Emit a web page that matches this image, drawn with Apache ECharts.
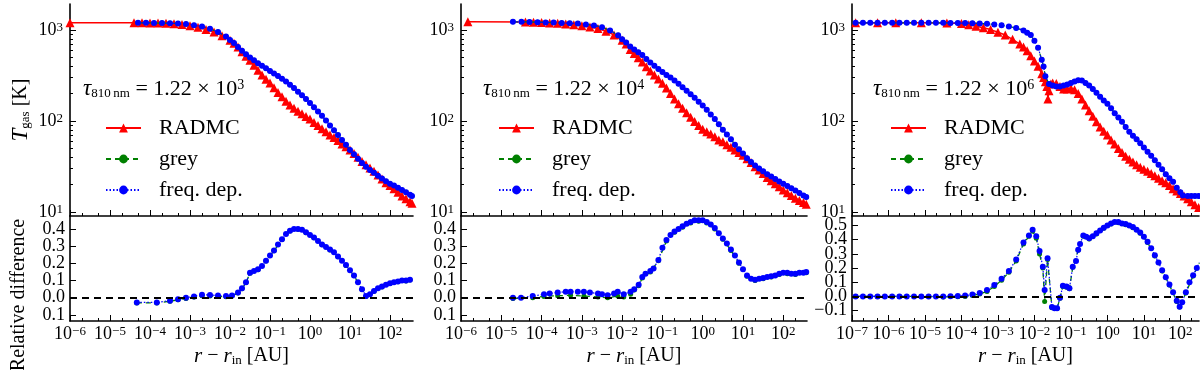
<!DOCTYPE html>
<html>
<head>
<meta charset="utf-8">
<script src="https://cdn.jsdelivr.net/npm/echarts@6/dist/echarts.min.js"></script>
<style>
  html, body { margin: 0; padding: 0; background: #fff; }
  #chart { width: 1200px; height: 370px; }
</style>
</head>
<body>
<div id="chart"></div>
<script>
// points are [log10(r - r_in / AU), value]

// panel 1, tau = 1.22e3
const radmc1 = [[-6,1200],[-4.4,1200],[-4.2,1200],[-4.0,1195],[-3.8,1190],[-3.6,1185],[-3.4,1170],[-3.2,1150],[-3.0,1115],[-2.8,1070],[-2.6,1015],[-2.4,950],[-2.2,865],[-2.0,770],[-1.9,715],[-1.8,650],[-1.7,575],[-1.6,515],[-1.5,465],[-1.4,410],[-1.3,360],[-1.2,320],[-1.1,288],[-1.0,262],[-0.9,232],[-0.8,206],[-0.7,185],[-0.6,165],[-0.5,150],[-0.4,138],[-0.3,128],[-0.2,120],[-0.1,112],[0.0,105],[0.1,96],[0.2,89],[0.3,82],[0.4,76],[0.5,70],[0.6,66],[0.7,61],[0.8,56],[0.9,52],[1.0,48],[1.1,44],[1.2,40],[1.3,36],[1.4,33],[1.5,30.5],[1.6,28],[1.7,25.5],[1.8,23],[1.9,21],[2.0,19.5],[2.1,18],[2.2,16.5],[2.3,15],[2.4,14],[2.5,13],[2.55,12.5]];
const freq1 = [[-4.3,1200],[-4.1,1200],[-3.9,1195],[-3.7,1190],[-3.5,1185],[-3.3,1175],[-3.1,1160],[-2.9,1130],[-2.7,1090],[-2.5,1030],[-2.3,950],[-2.1,850],[-2.0,777],[-1.9,720],[-1.8,650],[-1.7,590],[-1.6,540],[-1.5,500],[-1.4,465],[-1.3,432],[-1.2,405],[-1.1,380],[-1.0,355],[-0.9,333],[-0.8,312],[-0.7,292],[-0.6,272],[-0.5,251],[-0.4,230],[-0.3,210],[-0.2,192],[-0.1,175],[0.0,158],[0.1,142],[0.2,127],[0.3,114],[0.4,101],[0.5,89],[0.6,79],[0.7,70],[0.8,62],[0.9,55],[1.0,48],[1.1,43],[1.2,38.5],[1.3,34.5],[1.4,31.5],[1.5,29],[1.6,27],[1.7,25],[1.8,23.3],[1.9,21.8],[2.0,20.5],[2.1,19.5],[2.2,18.5],[2.3,17.5],[2.4,16.5],[2.5,15.5],[2.55,15]];
const freqDiff1 = [[-4.33,-0.027],[-3.83,-0.027],[-3.5,-0.017],[-3.3,-0.008],[-3.1,0.0],[-2.9,0.008],[-2.7,0.018],[-2.5,0.016],[-2.3,0.013],[-2.1,0.01],[-1.95,0.013],[-1.8,0.03],[-1.7,0.055],[-1.6,0.09],[-1.5,0.145],[-1.4,0.155],[-1.3,0.165],[-1.2,0.185],[-1.1,0.215],[-1.0,0.245],[-0.9,0.275],[-0.8,0.31],[-0.7,0.34],[-0.6,0.37],[-0.5,0.39],[-0.4,0.4],[-0.3,0.4],[-0.2,0.395],[-0.1,0.38],[0.0,0.365],[0.1,0.35],[0.2,0.33],[0.3,0.31],[0.4,0.295],[0.5,0.28],[0.6,0.265],[0.7,0.24],[0.8,0.215],[0.9,0.19],[1.0,0.16],[1.1,0.13],[1.2,0.09],[1.3,0.05],[1.4,0.01],[1.5,0.02],[1.6,0.04],[1.7,0.055],[1.8,0.065],[1.9,0.075],[2.0,0.085],[2.1,0.09],[2.2,0.095],[2.3,0.1],[2.4,0.1],[2.5,0.105]];
const greyDiff1 = [[-4.33,-0.03],[-3.83,-0.03],[-3.5,-0.02],[-3.3,-0.012],[-3.1,-0.004],[-2.9,0.004],[-2.7,0.012],[-2.5,0.01],[-2.3,0.008],[-2.1,0.006],[-1.95,0.01],[-1.8,0.028],[-1.7,0.052],[-1.6,0.088],[-1.5,0.143],[-1.3,0.163],[-1.1,0.213],[-0.9,0.273],[-0.7,0.338],[-0.5,0.388],[-0.3,0.398],[-0.1,0.378],[0.1,0.348],[0.3,0.308],[0.5,0.278],[0.7,0.238],[0.9,0.188],[1.1,0.128],[1.3,0.048],[1.4,0.008],[1.6,0.038],[1.8,0.063],[2.0,0.083],[2.2,0.093],[2.4,0.098],[2.5,0.103]];

// panel 2, tau = 1.22e4
const radmc2 = [[-5.83,1230],[-4.4,1225],[-4.2,1215],[-4.0,1205],[-3.8,1195],[-3.6,1185],[-3.4,1165],[-3.2,1140],[-3.0,1110],[-2.8,1080],[-2.6,1040],[-2.4,970],[-2.2,880],[-2.0,770],[-1.9,700],[-1.8,610],[-1.7,550],[-1.6,495],[-1.5,445],[-1.4,395],[-1.3,355],[-1.2,320],[-1.1,290],[-1.0,260],[-0.9,230],[-0.8,200],[-0.7,175],[-0.6,155],[-0.5,138],[-0.4,123],[-0.3,110],[-0.2,99],[-0.1,89],[0.0,81],[0.1,76],[0.2,72],[0.3,67],[0.4,62],[0.5,59],[0.6,55],[0.7,51.5],[0.8,48],[0.9,45],[1.0,42],[1.1,38.5],[1.2,35],[1.3,31.5],[1.4,29],[1.5,26.5],[1.6,24],[1.7,22],[1.8,20.5],[1.9,19],[2.0,17.5],[2.1,16.3],[2.2,15.2],[2.3,14.2],[2.4,13.4],[2.5,12.7],[2.57,12.2]];
const freq2 = [[-4.71,1230],[-4.5,1228],[-4.3,1225],[-4.1,1220],[-3.9,1212],[-3.7,1205],[-3.5,1195],[-3.3,1185],[-3.1,1175],[-2.9,1150],[-2.7,1120],[-2.5,1075],[-2.3,990],[-2.1,875],[-2.0,790],[-1.9,730],[-1.8,660],[-1.7,610],[-1.6,570],[-1.5,530],[-1.4,480],[-1.3,440],[-1.2,405],[-1.1,372],[-1.0,345],[-0.9,320],[-0.8,300],[-0.7,278],[-0.6,256],[-0.5,235],[-0.4,215],[-0.3,197],[-0.2,180],[-0.1,163],[0.0,148],[0.1,133],[0.2,118],[0.3,105],[0.4,92],[0.5,80],[0.6,71],[0.7,63],[0.8,55],[0.9,49],[1.0,44],[1.1,39],[1.2,35.5],[1.3,32.5],[1.4,30],[1.5,28],[1.6,26],[1.7,24.5],[1.8,23],[1.9,21.7],[2.0,20.5],[2.1,19.3],[2.2,18.2],[2.3,17.2],[2.4,16.2],[2.5,15.2],[2.57,14.6]];
const freqDiff2 = [[-4.71,0.0],[-4.51,0.0],[-4.22,0.01],[-3.94,0.02],[-3.8,0.025],[-3.6,0.03],[-3.4,0.035],[-3.28,0.035],[-3.1,0.035],[-2.95,0.035],[-2.8,0.03],[-2.6,0.025],[-2.5,0.02],[-2.36,0.015],[-2.2,0.025],[-2.11,0.035],[-1.96,0.02],[-1.79,0.035],[-1.7,0.05],[-1.59,0.075],[-1.5,0.12],[-1.42,0.14],[-1.3,0.155],[-1.22,0.17],[-1.1,0.22],[-1.0,0.29],[-0.9,0.335],[-0.8,0.365],[-0.7,0.385],[-0.6,0.4],[-0.5,0.415],[-0.4,0.43],[-0.3,0.44],[-0.2,0.45],[-0.1,0.45],[0.0,0.45],[0.1,0.44],[0.2,0.425],[0.3,0.405],[0.4,0.375],[0.5,0.345],[0.6,0.315],[0.7,0.28],[0.8,0.245],[0.9,0.205],[1.0,0.165],[1.1,0.13],[1.2,0.11],[1.3,0.105],[1.4,0.11],[1.5,0.115],[1.6,0.12],[1.7,0.125],[1.8,0.13],[1.9,0.14],[2.0,0.145],[2.1,0.145],[2.2,0.14],[2.3,0.14],[2.4,0.145],[2.5,0.145],[2.57,0.15]];
const greyDiff2 = [[-4.71,-0.005],[-4.22,0.0],[-3.94,0.008],[-3.6,0.012],[-3.28,0.014],[-2.95,0.01],[-2.6,0.004],[-2.36,0.0],[-2.11,0.01],[-1.96,0.005],[-1.79,0.02],[-1.7,0.045],[-1.59,0.07],[-1.5,0.115],[-1.3,0.15],[-1.1,0.215],[-0.9,0.33],[-0.7,0.38],[-0.5,0.41],[-0.3,0.435],[-0.1,0.445],[0.1,0.435],[0.3,0.4],[0.5,0.34],[0.7,0.275],[0.9,0.2],[1.1,0.125],[1.3,0.1],[1.5,0.11],[1.7,0.12],[1.9,0.135],[2.1,0.14],[2.3,0.135],[2.57,0.145]];

// panel 3, tau = 1.22e6
const radmc3 = [[-6.9,1200],[-6.3,1200],[-5.8,1200],[-5.1,1200],[-4.4,1195],[-4.0,1175],[-3.8,1140],[-3.6,1100],[-3.4,1060],[-3.2,1010],[-3.0,945],[-2.8,880],[-2.6,790],[-2.4,700],[-2.3,650],[-2.2,590],[-2.1,520],[-2.0,455],[-1.9,400],[-1.8,330],[-1.75,300],[-1.7,270],[-1.66,240],[-1.63,175],[-1.6,215],[-1.55,255],[-1.5,262],[-1.4,258],[-1.3,240],[-1.2,225],[-1.1,225],[-1.0,228],[-0.9,220],[-0.8,200],[-0.7,175],[-0.6,150],[-0.5,130],[-0.4,113],[-0.3,98],[-0.2,86],[-0.1,77],[0.0,70],[0.1,62],[0.2,56],[0.3,50],[0.4,45],[0.5,41],[0.6,38],[0.7,35.5],[0.8,33],[0.9,31],[1.0,29.5],[1.1,28],[1.2,26.5],[1.3,25],[1.4,23.5],[1.5,22],[1.6,21],[1.7,19.5],[1.8,18],[1.9,17],[2.0,16],[2.1,15],[2.2,14],[2.3,13],[2.4,12],[2.5,11.2]];
const freq3 = [[-6.9,1200],[-6.7,1200],[-6.5,1200],[-6.3,1200],[-6.1,1200],[-5.9,1200],[-5.7,1200],[-5.5,1200],[-5.3,1200],[-5.1,1200],[-4.9,1200],[-4.7,1200],[-4.5,1198],[-4.3,1196],[-4.1,1193],[-3.9,1190],[-3.7,1185],[-3.5,1178],[-3.3,1170],[-3.1,1150],[-2.9,1125],[-2.7,1090],[-2.5,1050],[-2.3,990],[-2.2,935],[-2.1,880],[-2.0,760],[-1.9,640],[-1.8,470],[-1.75,398],[-1.7,310],[-1.6,255],[-1.5,245],[-1.4,240],[-1.3,240],[-1.2,245],[-1.1,252],[-1.0,262],[-0.9,272],[-0.8,280],[-0.7,278],[-0.6,262],[-0.5,245],[-0.4,225],[-0.3,204],[-0.2,185],[-0.1,168],[0.0,155],[0.1,138],[0.2,122],[0.3,109],[0.4,98],[0.5,86],[0.6,76],[0.7,69],[0.8,63],[0.9,57],[1.0,51],[1.1,46],[1.2,41.5],[1.3,37],[1.4,33],[1.5,29.5],[1.6,26],[1.7,23.5],[1.8,21.5],[1.9,18.5],[2.0,16.5],[2.07,15.2],[2.2,15],[2.3,15],[2.4,15],[2.5,15]];
const freqDiff3 = [[-6.9,0],[-6.7,0],[-6.5,0],[-6.3,0],[-6.1,0],[-5.9,0],[-5.7,0],[-5.5,0],[-5.3,0],[-5.1,0],[-4.9,0],[-4.7,0],[-4.5,0],[-4.3,0.002],[-4.1,0.003],[-3.9,0.006],[-3.7,0.013],[-3.5,0.025],[-3.3,0.045],[-3.1,0.08],[-2.9,0.125],[-2.7,0.18],[-2.5,0.26],[-2.3,0.38],[-2.15,0.43],[-2.05,0.47],[-1.95,0.425],[-1.86,0.32],[-1.77,0.21],[-1.72,0.045],[-1.64,0.27],[-1.52,-0.075],[-1.45,-0.083],[-1.38,-0.083],[-1.3,-0.01],[-1.22,0.075],[-1.12,0.07],[-1.04,0.058],[-0.95,0.21],[-0.86,0.25],[-0.8,0.33],[-0.75,0.37],[-0.66,0.43],[-0.58,0.42],[-0.5,0.41],[-0.4,0.425],[-0.3,0.445],[-0.2,0.465],[-0.1,0.485],[0.0,0.5],[0.1,0.515],[0.2,0.525],[0.3,0.525],[0.4,0.515],[0.5,0.51],[0.6,0.5],[0.7,0.49],[0.8,0.47],[0.9,0.45],[1.0,0.42],[1.1,0.385],[1.2,0.34],[1.3,0.29],[1.4,0.24],[1.5,0.185],[1.6,0.135],[1.7,0.085],[1.8,0.03],[1.9,-0.03],[1.98,-0.072],[2.05,-0.04],[2.15,0.03],[2.25,0.1],[2.35,0.15],[2.45,0.2],[2.52,0.24]];
const greyDiff3 = [[-6.9,0],[-6.3,0],[-5.7,0],[-5.1,0],[-4.5,-0.003],[-4.1,-0.002],[-3.9,0.0],[-3.7,0.006],[-3.5,0.018],[-3.3,0.035],[-3.1,0.07],[-2.9,0.115],[-2.7,0.17],[-2.5,0.25],[-2.3,0.37],[-2.15,0.425],[-2.05,0.46],[-1.95,0.41],[-1.86,0.3],[-1.77,0.2],[-1.72,-0.035],[-1.64,0.26],[-1.52,-0.08],[-1.38,-0.085],[-1.3,-0.012],[-1.22,0.07],[-1.12,0.065],[-1.04,0.055],[-0.95,0.205],[-0.8,0.325],[-0.66,0.425],[-0.5,0.405],[-0.3,0.44],[-0.1,0.48],[0.1,0.51],[0.3,0.52],[0.5,0.505],[0.7,0.485],[0.9,0.445],[1.1,0.38],[1.3,0.285],[1.5,0.18],[1.7,0.08],[1.9,-0.035],[1.98,-0.075],[2.15,0.025],[2.35,0.145],[2.52,0.235]];

// in the top panels the grey run sits right under the freq. dep. one
const grey1 = freq1, grey2 = freq2, grey3 = freq3;

// ticks
const rDecades12 = [1e-6, 1e-5, 1e-4, 1e-3, 1e-2, 1e-1, 1, 10, 100];
const rDecades3 = [1e-7, 1e-6, 1e-5, 1e-4, 1e-3, 1e-2, 1e-1, 1, 10, 100];
const tDecades = [10, 100, 1000];
const diffTicks12 = [-0.1, 0, 0.1, 0.2, 0.3, 0.4];
const diffTicks3 = [-0.1, 0, 0.1, 0.2, 0.3, 0.4, 0.5];
const tauExp = ['3', '4', '6'];
const legendNames = ['RADMC', 'grey', 'freq. dep.'];

const FONT = "'Liberation Serif', 'DejaVu Serif', serif";

const panels = [
  { left: 70, width: 343, rMin: 1e-6, rMax: 376, decades: rDecades12, dMin: -0.135, dMax: 0.475, dTicks: diffTicks12, minus: false, legendLeft: 100, noteLeft: 83 },
  { left: 461, width: 346, rMin: 1e-6, rMax: 388, decades: rDecades12, dMin: -0.135, dMax: 0.475, dTicks: diffTicks12, minus: false, legendLeft: 493, noteLeft: 483 },
  { left: 852, width: 347, rMin: 1e-7, rMax: 324, decades: rDecades3, dMin: -0.173, dMax: 0.567, dTicks: diffTicks3, minus: true, legendLeft: 885, noteLeft: 873 }
];
const runs = [
  { radmc: radmc1, grey: grey1, freq: freq1, greyDiff: greyDiff1, freqDiff: freqDiff1 },
  { radmc: radmc2, grey: grey2, freq: freq2, greyDiff: greyDiff2, freqDiff: freqDiff2 },
  { radmc: radmc3, grey: grey3, freq: freq3, greyDiff: greyDiff3, freqDiff: freqDiff3 }
];

const T_MIN = 9.04, T_MAX = 1930;
const TOP = 4, TOP_H = 212, BOT = 216, BOT_H = 105;

const toPts = arr => arr.map(([lr, v]) => [Math.pow(10, lr), v]);
const inRange = (vals, lo, hi) => vals.filter(v => v >= lo * 0.999 && v <= hi * 1.001);
const minorOf = (decades, mults) => decades.flatMap(d => mults.map(m => m * d));

const lineBlack = { color: '#000', width: 1.6 };
const tickBlack = { color: '#000', width: 1 };
const supRich = {
  b: { fontSize: 18, fontFamily: FONT, color: '#000', lineHeight: 18 },
  s: { fontSize: 13, fontFamily: FONT, color: '#000', lineHeight: 2, verticalAlign: 'top' }
};
const powLabel = v => {
  const e = Math.round(Math.log10(v));
  return '{b|10}{s|' + (e < 0 ? '\u2212' + (-e) : e) + '}';
};
const labelAll = { interval: 0, hideOverlap: false };

const grids = [];
const xAxes = [];
const yAxes = [];
const series = [];
const legends = [];
const graphics = [];

panels.forEach((p, i) => {
  grids.push({ left: p.left, width: p.width, top: TOP, height: TOP_H, containLabel: false, outerBoundsMode: 'none' });
  grids.push({ left: p.left, width: p.width, top: BOT, height: BOT_H, containLabel: false, outerBoundsMode: 'none' });

  const rMajor = inRange(p.decades, p.rMin, p.rMax);
  const rMinor = inRange(minorOf(p.decades, [2, 5]), p.rMin, p.rMax);
  const xBase = { type: 'log', logBase: 10, min: p.rMin, max: p.rMax, position: 'bottom', offset: 0, splitLine: { show: false } };

  // top panel: x axis without labels
  xAxes.push(Object.assign({}, xBase, {
    gridIndex: 2 * i,
    axisLine: { show: true, onZero: false, lineStyle: lineBlack },
    axisTick: { inside: true, length: 6, lineStyle: tickBlack, customValues: rMajor },
    axisLabel: { show: false }
  }));
  xAxes.push(Object.assign({}, xBase, {
    gridIndex: 2 * i,
    axisLine: { show: false, onZero: false },
    axisTick: { inside: true, length: 3, lineStyle: tickBlack, customValues: rMinor },
    axisLabel: { show: false }
  }));
  // bottom panel: x axis with labels and name
  xAxes.push(Object.assign({}, xBase, {
    gridIndex: 2 * i + 1,
    axisLine: { show: true, onZero: false, lineStyle: lineBlack },
    axisTick: { inside: true, length: 6, lineStyle: tickBlack, customValues: rMajor },
    axisLabel: Object.assign({ customValues: rMajor, formatter: powLabel, rich: supRich, margin: 4, showMinLabel: true, showMaxLabel: true }, labelAll),
    name: '{i|r} \u2212 {i|r}{s|in} [AU]',
    nameLocation: 'middle',
    nameGap: 24,
    nameTextStyle: {
      fontSize: 20, fontFamily: FONT, color: '#000',
      rich: {
        i: { fontStyle: 'italic', fontSize: 21, fontFamily: FONT, color: '#000', lineHeight: 22 },
        s: { fontSize: 13, fontFamily: FONT, color: '#000', lineHeight: 8, verticalAlign: 'bottom' }
      }
    }
  }));
  xAxes.push(Object.assign({}, xBase, {
    gridIndex: 2 * i + 1,
    axisLine: { show: false, onZero: false },
    axisTick: { inside: true, length: 3, lineStyle: tickBlack, customValues: rMinor },
    axisLabel: { show: false }
  }));

  // top panel: log temperature axis
  const tMinor = inRange(minorOf([1, 10, 100, 1000], [2, 3, 4, 5, 6, 7, 8, 9]), T_MIN, T_MAX);
  const yTop = {
    type: 'log', logBase: 10, gridIndex: 2 * i, min: T_MIN, max: T_MAX,
    position: 'left', offset: 0,
    splitLine: { show: false },
    axisLine: { show: true, onZero: false, lineStyle: lineBlack },
    axisTick: { inside: true, length: 6, lineStyle: tickBlack, customValues: tDecades },
    axisLabel: Object.assign({ customValues: tDecades, formatter: powLabel, rich: supRich, margin: 7, showMinLabel: true, showMaxLabel: true }, labelAll)
  };
  if (i === 0) {
    Object.assign(yTop, {
      name: '{i|T}{s|gas} [K]',
      nameLocation: 'middle',
      nameGap: 38,
      nameTextStyle: {
        fontSize: 20, fontFamily: FONT, color: '#000',
        rich: {
          i: { fontStyle: 'italic', fontSize: 23, fontFamily: FONT, color: '#000', lineHeight: 22 },
          s: { fontSize: 13, fontFamily: FONT, color: '#000', lineHeight: 8, verticalAlign: 'bottom' }
        }
      }
    });
  }
  yAxes.push(yTop);
  yAxes.push({
    type: 'log', logBase: 10, gridIndex: 2 * i, min: T_MIN, max: T_MAX,
    position: 'left', offset: 0,
    splitLine: { show: false },
    axisLine: { show: false, onZero: false },
    axisTick: { inside: true, length: 3, lineStyle: tickBlack, customValues: tMinor },
    axisLabel: { show: false }
  });
  // bottom panel: relative difference
  // blank labels at both ends keep ECharts' min/max-label overlap check away from the real ones
  const dLabelValues = [p.dMin + 0.002].concat(p.dTicks, [p.dMax - 0.002]);
  yAxes.push({
    type: 'value', gridIndex: 2 * i + 1, min: p.dMin, max: p.dMax,
    position: 'left', offset: 0,
    splitLine: { show: false },
    axisLine: { show: true, onZero: false, lineStyle: lineBlack },
    axisTick: { inside: true, length: 6, lineStyle: tickBlack, customValues: p.dTicks },
    axisLabel: Object.assign({
      customValues: dLabelValues, margin: 5,
      fontSize: 18, fontFamily: FONT, color: '#000',
      formatter: v => {
        if (!p.dTicks.some(t => Math.abs(t - v) < 1e-6)) return '';
        const a = Math.abs(v).toFixed(1);
        return (p.minus && v < -1e-9) ? '\u2212' + a : a;
      }
    }, labelAll)
  });

  const r = runs[i];
  const xt = 4 * i, xb = 4 * i + 2, yt = 3 * i, yb = 3 * i + 2;
  const common = { type: 'line', animation: false, silent: true, emphasis: { disabled: true }, clip: true };

  series.push(Object.assign({}, common, {
    name: 'RADMC', xAxisIndex: xt, yAxisIndex: yt, data: toPts(r.radmc), z: 2,
    symbol: 'triangle', symbolSize: 9,
    itemStyle: { color: '#ff0000' },
    lineStyle: { color: '#ff0000', width: 1.5 }
  }));
  series.push(Object.assign({}, common, {
    name: 'grey', xAxisIndex: xt, yAxisIndex: yt, data: toPts(r.grey), z: 3,
    symbol: 'circle', symbolSize: 5,
    itemStyle: { color: '#008000' },
    lineStyle: { color: '#008000', width: 1.3, type: [5, 4] }
  }));
  series.push(Object.assign({}, common, {
    name: 'freq. dep.', xAxisIndex: xt, yAxisIndex: yt, data: toPts(r.freq), z: 4,
    symbol: 'circle', symbolSize: 6,
    itemStyle: { color: '#0000ff' },
    lineStyle: { color: '#0000ff', width: 1.2, type: [1.5, 2] }
  }));
  series.push(Object.assign({}, common, {
    name: 'grey', xAxisIndex: xb, yAxisIndex: yb, data: toPts(r.greyDiff), z: 3,
    symbol: 'circle', symbolSize: 5,
    itemStyle: { color: '#008000' },
    lineStyle: { color: '#008000', width: 1.3, type: [5, 4] }
  }));
  series.push(Object.assign({}, common, {
    name: 'freq. dep.', xAxisIndex: xb, yAxisIndex: yb, data: toPts(r.freqDiff), z: 4,
    symbol: 'circle', symbolSize: 6,
    itemStyle: { color: '#0000ff' },
    lineStyle: { color: '#0000ff', width: 1.2, type: [1.5, 2] },
    markLine: {
      silent: true, symbol: ['none', 'none'], label: { show: false }, animation: false,
      lineStyle: { color: '#000', width: 2, type: [7, 5] },
      data: [{ yAxis: 0 }]
    }
  }));

  legends.push({
    left: p.legendLeft, top: 112, orient: 'vertical',
    itemWidth: 35, itemHeight: 11, itemGap: 9,
    selectedMode: false,
    data: legendNames,
    textStyle: { fontSize: 22, fontFamily: FONT, color: '#000', lineHeight: 22, padding: [0, 0, 0, 13] }
  });

  graphics.push({
    type: 'text', x: p.noteLeft, y: 89, silent: true,
    style: {
      text: '{t|\u03c4}{sb|810\u2009nm}{n| = 1.22 \u00d7 10}{sp|' + tauExp[i] + '}',
      fill: '#000', verticalAlign: 'middle', align: 'left',
      rich: {
        t: { fontSize: 23, fontFamily: FONT, fontStyle: 'italic', lineHeight: 22, fill: '#000' },
        sb: { fontSize: 13, fontFamily: FONT, lineHeight: 8, verticalAlign: 'bottom', fill: '#000' },
        n: { fontSize: 22, fontFamily: FONT, lineHeight: 22, fill: '#000' },
        sp: { fontSize: 14, fontFamily: FONT, lineHeight: 4, verticalAlign: 'top', fill: '#000' }
      }
    }
  });
});

graphics.push({
  type: 'text', x: 19, y: 295, rotation: Math.PI / 2, silent: true,
  style: { text: 'Relative difference', fontSize: 20, fontFamily: FONT, fill: '#000', align: 'center', verticalAlign: 'middle' }
});

const chart = echarts.init(document.getElementById('chart'), null, { renderer: 'canvas' });
chart.setOption({
  animation: false,
  backgroundColor: '#fff',
  textStyle: { fontFamily: FONT },
  grid: grids,
  xAxis: xAxes,
  yAxis: yAxes,
  legend: legends,
  series: series,
  graphic: graphics
});
</script>
</body>
</html>
